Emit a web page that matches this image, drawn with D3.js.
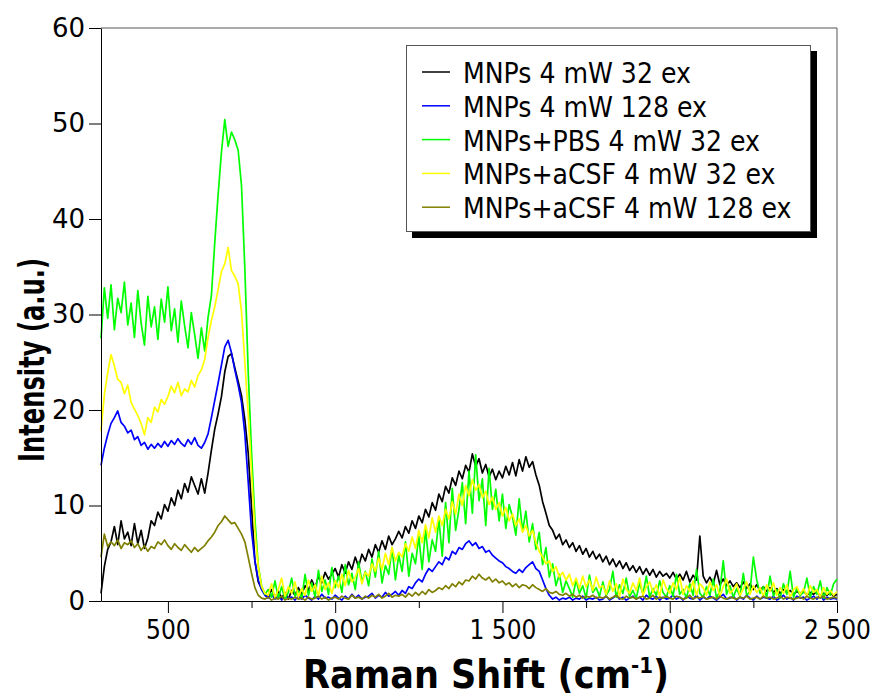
<!DOCTYPE html>
<html><head><meta charset="utf-8">
<script src="https://cdn.jsdelivr.net/npm/d3@7"></script>
<style>
html,body{margin:0;padding:0;background:#fff;}
svg{display:block;}
</style></head>
<body><svg id="c" width="874" height="697"></svg>
<script>
// ---------- data (Raman shift grid 300..2500 cm-1, step 10) ----------
const shiftStart = 300, shiftEnd = 2500, shiftStep = 10;
const xTicks = [500, 1000, 1500, 2000, 2500];
const xMinorTicks = [750, 1250, 1750, 2250];
const yTicks = [0, 10, 20, 30, 40, 50, 60];
const seriesNames = ["MNPs 4 mW 32 ex", "MNPs 4 mW 128 ex", "MNPs+PBS 4 mW 32 ex", "MNPs+aCSF 4 mW 32 ex", "MNPs+aCSF 4 mW 128 ex"];
const seriesColors = ["#000000", "#0000ff", "#00ff00", "#ffff00", "#808000"];

const mnps32 = [
0.8,3.6,5.4,6.2,7.8,5.9,8.4,6.5,7.2,5.8,
8.1,6.0,7.4,5.5,6.6,8.4,7.9,9.3,8.6,10.1,
9.4,10.8,10.0,11.6,10.7,12.3,11.4,13.0,12.1,11.2,
12.8,11.3,13.4,15.8,18.0,19.6,21.4,24.0,25.6,25.9,
24.4,23.0,21.5,19.0,15.5,9.8,4.2,2.0,1.3,0.8,
0.5,1.2,0.4,1.0,0.3,0.9,0.2,1.1,0.6,1.4,
0.7,1.6,1.1,2.2,1.4,2.6,1.9,3.0,2.3,2.8,
3.4,2.5,3.8,2.9,4.1,3.3,4.6,3.6,4.9,4.2,
5.4,4.6,5.9,5.1,6.3,5.4,6.8,5.9,6.5,7.3,
6.6,7.8,7.1,8.4,7.6,8.9,8.2,9.6,8.8,10.3,
9.5,11.2,10.4,12.0,11.3,12.9,12.1,13.6,12.8,14.2,
13.5,15.4,14.1,14.9,13.4,14.3,13.0,13.8,12.7,13.6,
12.9,14.1,13.2,14.5,13.1,14.8,13.6,15.1,14.0,14.6,
13.2,12.1,10.4,9.2,7.9,7.4,6.5,7.0,5.9,6.4,
5.6,6.1,5.2,5.8,4.9,5.5,4.6,5.2,4.4,4.9,
4.1,4.7,3.8,4.4,3.6,4.2,3.4,4.0,3.2,3.7,
3.0,3.6,2.8,3.4,2.7,3.3,2.5,3.1,2.6,2.9,
2.4,3.0,2.3,2.8,2.2,3.1,2.0,2.7,2.2,6.8,
2.6,1.9,2.5,1.8,3.2,1.7,2.3,1.6,2.1,1.5,
1.9,1.4,2.0,1.3,1.8,1.2,1.7,1.1,1.5,1.0,
1.4,0.9,1.3,0.8,1.2,0.9,1.1,0.7,1.0,0.8,
1.1,0.6,0.9,0.7,1.0,0.5,0.8,0.6,0.9,0.5,
0.7];

const mnps128 = [
14.2,16.0,17.4,18.6,19.2,19.9,18.7,18.3,17.6,17.9,
16.9,17.2,16.3,16.6,15.9,16.4,16.0,16.5,16.1,16.7,
16.2,16.8,16.4,17.0,16.5,16.2,16.9,16.4,17.1,16.3,
16.0,16.6,17.5,19.2,21.0,22.8,24.7,26.6,27.3,26.0,
24.2,22.6,20.8,17.5,12.5,7.3,4.2,2.2,1.2,0.6,
0.3,0.7,0.2,0.5,0.1,0.6,0.3,0.4,0.1,0.5,
0.2,0.6,0.3,0.1,0.5,0.2,0.7,0.3,0.4,0.2,
0.6,0.3,0.1,0.5,0.2,0.7,0.3,0.6,0.2,0.4,
0.5,0.8,0.3,0.6,0.4,0.9,0.5,0.7,1.0,0.6,
1.1,0.8,1.5,1.3,1.9,2.3,2.0,2.8,3.4,3.1,
3.6,4.1,3.8,4.6,4.3,5.2,4.9,5.6,5.4,6.0,
6.3,5.8,6.1,5.5,5.7,5.1,5.3,4.8,4.5,4.2,
4.0,3.6,3.4,3.1,2.9,3.3,3.0,3.5,3.8,4.1,
3.4,3.1,2.2,1.3,0.6,0.2,0.4,0.1,0.3,0.2,
0.4,0.1,0.3,0.2,0.5,0.1,0.3,0.2,0.4,0.1,
0.2,0.5,0.1,0.3,0.6,0.2,0.4,0.1,0.3,0.5,
0.2,0.4,0.1,0.6,0.3,0.2,0.5,0.1,0.4,0.2,
0.3,0.6,0.2,0.4,0.1,0.5,0.3,0.2,0.6,0.1,
0.4,0.2,0.5,0.3,0.1,0.4,0.7,0.2,0.3,0.5,
0.1,0.4,0.2,0.6,0.3,0.1,0.5,0.2,0.4,0.3,
0.2,0.5,0.1,0.3,0.6,0.2,0.4,0.1,0.5,0.3,
0.4,0.1,0.3,0.5,0.2,0.6,0.1,0.4,0.2,0.3,
0.2];

const pbs32 = [
27.5,32.8,29.6,33.1,28.4,31.7,30.2,33.4,28.9,31.2,
27.6,32.5,29.1,26.8,31.9,28.7,30.8,27.4,31.6,29.2,
32.9,28.3,30.6,27.1,31.4,28.8,26.5,30.2,27.9,25.4,
28.6,26.2,29.7,32.0,37.5,42.5,47.0,50.4,47.6,49.1,
48.3,47.2,43.5,34.8,24.0,15.6,8.6,3.7,1.6,0.7,
1.2,0.4,2.1,0.3,1.5,0.2,0.9,2.4,0.5,1.1,
0.3,2.8,0.6,1.9,0.4,3.2,1.0,2.2,0.7,3.5,
1.4,2.6,0.9,3.8,1.7,2.9,1.2,4.1,2.0,3.1,
1.6,4.4,2.5,5.2,1.9,3.7,2.8,5.6,2.2,4.8,
3.1,6.2,2.6,5.0,3.9,6.8,3.3,7.5,4.1,6.4,
5.2,8.6,4.7,10.3,6.1,11.8,7.4,9.6,12.4,8.1,
13.6,9.2,15.3,10.5,12.8,7.9,13.9,9.6,11.7,8.4,
11.2,7.6,10.1,8.8,6.9,10.7,7.3,9.4,6.2,8.1,
5.4,7.2,3.8,5.6,2.5,3.9,1.6,2.8,0.9,2.1,
1.3,0.4,2.2,0.8,1.6,0.3,2.7,0.9,1.4,0.5,
2.0,0.6,1.2,3.1,0.4,1.7,0.8,2.4,0.5,1.1,
0.3,1.9,0.7,2.6,0.4,1.3,0.6,2.1,0.9,0.4,
1.6,0.5,2.8,0.7,1.2,0.3,1.8,0.6,3.3,0.8,
0.4,1.5,0.6,2.3,0.3,1.1,4.2,0.7,1.6,0.4,
1.3,0.5,2.9,0.6,1.0,4.6,2.2,0.8,1.5,0.4,
2.6,0.5,1.2,0.3,1.8,0.7,3.1,0.4,1.3,0.6,
0.9,2.4,0.4,1.5,0.7,2.1,0.3,1.4,0.6,1.8,
2.3];

const acsf32 = [
17.8,21.6,23.9,25.8,24.6,23.2,22.9,21.7,22.6,20.8,
20.1,19.4,18.6,17.4,19.2,18.7,20.3,19.8,21.1,20.6,
21.4,22.5,21.8,22.9,21.5,22.2,21.9,23.1,22.4,23.6,
24.2,25.3,27.6,29.4,30.8,32.6,34.5,35.3,37.0,34.6,
34.0,33.2,30.3,25.0,19.6,13.4,7.3,3.6,1.5,0.8,
0.6,1.8,0.3,1.2,2.4,0.5,1.5,0.8,2.0,0.4,
1.3,0.6,2.2,1.0,1.7,0.5,2.6,1.2,1.9,0.8,
2.1,1.4,2.8,1.6,3.2,2.0,2.5,3.4,1.8,3.0,
2.6,3.9,3.1,4.5,3.3,5.0,3.8,5.6,4.2,5.1,
4.6,6.0,5.2,6.7,5.5,7.4,6.1,8.0,6.6,8.7,
7.2,8.9,7.9,9.6,8.6,10.4,9.1,11.2,10.0,12.1,
11.0,12.7,11.6,12.2,10.8,11.5,10.1,10.9,9.6,10.3,
8.9,9.8,8.4,9.1,7.9,8.6,7.2,7.9,6.8,7.4,
6.1,5.2,4.6,3.9,4.2,3.1,3.6,2.5,3.0,2.2,
2.8,1.6,2.4,1.3,2.6,1.5,2.2,1.1,2.5,1.4,
1.6,0.7,2.1,1.0,1.8,0.5,2.3,1.2,0.8,1.9,
1.1,2.4,0.6,1.5,2.0,0.9,1.7,0.5,2.2,1.3,
0.8,1.9,1.2,2.5,0.7,1.6,1.0,2.1,0.6,1.8,
1.4,0.6,2.0,1.1,1.7,0.5,1.5,2.3,0.8,1.2,
1.8,0.6,1.3,2.0,0.7,1.6,0.9,1.4,0.5,1.7,
1.0,1.9,0.6,1.4,0.8,1.7,0.4,1.2,1.5,0.7,
1.3,0.5,1.6,0.9,1.2,0.4,1.4,0.7,1.1,0.6,
1.0];

const acsf128 = [
4.6,7.0,5.7,6.2,5.8,6.4,5.5,6.1,5.9,6.3,
5.6,6.0,5.3,5.8,5.2,5.7,5.5,6.2,5.9,6.4,
5.8,5.4,6.0,5.6,5.3,5.9,5.5,5.1,5.6,5.2,
5.5,5.8,6.3,6.7,7.2,7.9,8.3,8.9,8.5,8.1,
8.2,7.6,7.0,6.2,4.6,2.9,1.4,0.6,0.3,0.2,
0.4,0.1,0.3,0.2,0.5,0.1,0.3,0.2,0.4,0.2,
0.3,0.1,0.4,0.2,0.3,0.5,0.2,0.4,0.1,0.3,
0.4,0.2,0.5,0.3,0.2,0.6,0.3,0.4,0.2,0.5,
0.3,0.6,0.4,0.7,0.3,0.5,0.8,0.4,0.6,0.5,
0.7,0.4,0.8,0.5,0.9,0.6,1.0,0.7,1.2,0.9,
1.1,1.4,1.2,1.6,1.3,1.8,1.5,2.0,1.7,2.2,
2.1,2.6,2.3,2.8,2.4,2.2,2.5,2.0,2.3,1.9,
2.1,1.7,1.9,1.5,1.8,1.4,1.7,1.6,1.3,1.7,
1.4,1.2,1.0,1.3,0.9,0.8,1.0,0.7,0.6,0.8,
0.5,0.7,0.4,0.6,0.3,0.5,0.4,0.6,0.3,0.4,
0.3,0.5,0.2,0.4,0.6,0.3,0.2,0.5,0.3,0.4,
0.2,0.4,0.5,0.2,0.3,0.6,0.2,0.4,0.3,0.5,
0.3,0.2,0.5,0.4,0.2,0.3,0.6,0.2,0.4,0.3,
0.5,0.2,0.3,0.4,0.2,0.5,0.3,0.2,0.4,0.3,
0.2,0.4,0.3,0.5,0.2,0.3,0.4,0.2,0.5,0.3,
0.4,0.2,0.3,0.5,0.2,0.4,0.3,0.2,0.3,0.4,
0.2,0.5,0.3,0.2,0.4,0.3,0.5,0.2,0.3,0.4,
0.3];

const seriesValues = [mnps32, mnps128, pbs32, acsf32, acsf128];
const shift = d3.range(shiftStart, shiftEnd + 1, shiftStep);

// ---------- layout ----------
const svg = d3.select("#c");
const L = 101, R = 837, T = 28, B = 601;
const x = d3.scaleLinear().domain([shiftStart, shiftEnd]).range([L, R]);
const y = d3.scaleLinear().domain([0, 60]).range([B, T]);
const tickFont = "'DejaVu Sans Condensed','DejaVu Sans',sans-serif";
const yTickFont = "'DejaVu Sans',sans-serif";
const fmt = d3.formatLocale({decimal: ".", thousands: " ", grouping: [3], currency: ["", ""]}).format(",d");

// frame (top/right)
svg.append("path").attr("d", `M${L},${T}H${R}V${B}`).attr("fill", "none").attr("stroke", "#555").attr("stroke-width", 1);

// series
const line = d3.line().x((d, i) => x(shift[i])).y(d => y(d));
svg.append("g").selectAll("path").data(seriesValues).join("path")
  .attr("d", line).attr("fill", "none")
  .attr("stroke", (d, i) => seriesColors[i]).attr("stroke-width", 1.7)
  .attr("stroke-linejoin", "round");

// y axis
const yAxis = svg.append("g").attr("transform", `translate(${L},0)`)
  .call(d3.axisLeft(y).tickValues(yTicks).tickSize(12).tickPadding(4).tickSizeOuter(0));
yAxis.select(".domain").attr("stroke", "#000");
yAxis.selectAll(".tick line").attr("stroke", "#000");
yAxis.selectAll("text").attr("font-family", yTickFont).attr("font-size", 26).attr("fill", "#000");

// x axis
const xAxis = svg.append("g").attr("transform", `translate(0,${B})`)
  .call(d3.axisBottom(x).tickValues(xTicks).tickFormat(fmt).tickSize(12).tickPadding(8).tickSizeOuter(0));
xAxis.select(".domain").attr("stroke", "#000");
xAxis.selectAll(".tick line").attr("stroke", "#000");
xAxis.selectAll("text").attr("font-family", tickFont).attr("font-stretch", "condensed").attr("font-size", 26).attr("fill", "#000");
const xMinor = svg.append("g").attr("transform", `translate(0,${B})`)
  .call(d3.axisBottom(x).tickValues(xMinorTicks).tickFormat("").tickSize(7).tickSizeOuter(0));
xMinor.select(".domain").remove();
xMinor.selectAll(".tick line").attr("stroke", "#000");

// axis titles
svg.append("text").attr("transform", "translate(44,360) rotate(-90)")
  .attr("text-anchor", "middle").attr("font-family", tickFont).attr("font-stretch", "condensed")
  .attr("font-weight", "bold").attr("font-size", 36).attr("textLength", 204).attr("lengthAdjust", "spacingAndGlyphs")
  .text("Intensity (a.u.)");
const xt = svg.append("text").attr("x", 486).attr("y", 688).attr("text-anchor", "middle")
  .attr("font-family", tickFont).attr("font-stretch", "condensed").attr("font-weight", "bold").attr("font-size", 39);
xt.append("tspan").text("Raman Shift (cm");
xt.append("tspan").attr("font-size", 22).attr("dy", -15).text("-1");
xt.append("tspan").attr("dy", 15).text(")");

// legend
const lg = svg.append("g");
lg.append("rect").attr("x", 412).attr("y", 51).attr("width", 405).attr("height", 187).attr("fill", "#000");
lg.append("rect").attr("x", 406.5).attr("y", 45.5).attr("width", 404).attr("height", 186).attr("fill", "#fff").attr("stroke", "#555").attr("stroke-width", 1);
const rows = lg.selectAll("g.row").data(seriesNames).join("g").attr("class", "row")
  .attr("transform", (d, i) => `translate(0,${72 + i * 33.8})`);
rows.append("line").attr("x1", 422).attr("x2", 450).attr("y1", 0).attr("y2", 0)
  .attr("stroke", (d, i) => seriesColors[i]).attr("stroke-width", 1.5);
rows.append("text").attr("x", 463).attr("y", 11).attr("font-family", tickFont).attr("font-stretch", "condensed")
  .attr("font-size", 28).attr("fill", "#000").text(d => d);
</script></body></html>
